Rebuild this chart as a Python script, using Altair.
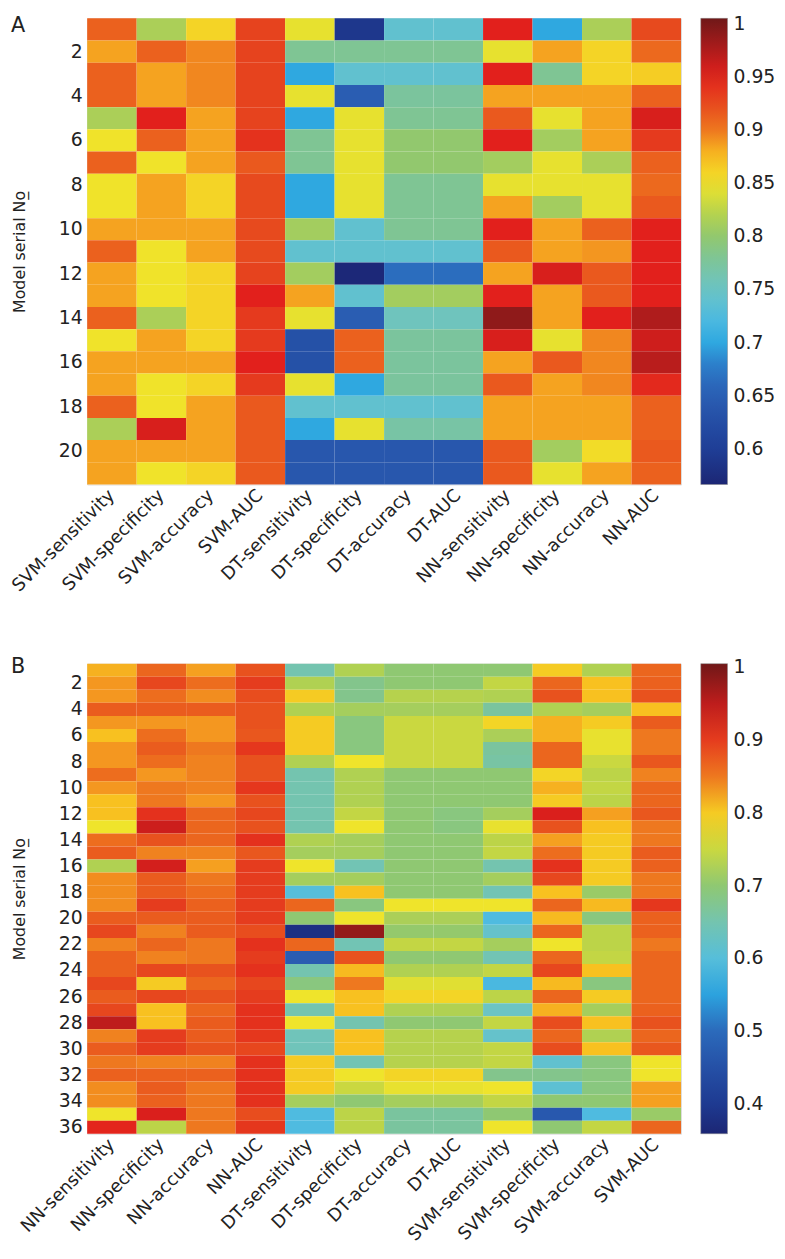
import altair as alt
import pandas as pd

# ---------------- Panel A data (21 models) ----------------
COLS_A = ["SVM-sensitivity", "SVM-specificity", "SVM-accuracy", "SVM-AUC",
          "DT-sensitivity", "DT-specificity", "DT-accuracy", "DT-AUC",
          "NN-sensitivity", "NN-specificity", "NN-accuracy", "NN-AUC"]
ROWS_A = list(range(1, 22))

A_SVM_SENS = [0.91, 0.885, 0.91, 0.91, 0.815, 0.85, 0.91, 0.85, 0.85, 0.885, 0.91,
              0.885, 0.885, 0.91, 0.85, 0.885, 0.885, 0.91, 0.815, 0.885, 0.885]
A_SVM_SPEC = [0.815, 0.91, 0.885, 0.885, 0.95, 0.91, 0.85, 0.885, 0.885, 0.885, 0.85,
              0.85, 0.85, 0.815, 0.885, 0.885, 0.85, 0.85, 0.955, 0.885, 0.85]
A_SVM_ACC = [0.86, 0.895, 0.895, 0.895, 0.885, 0.885, 0.885, 0.86, 0.86, 0.885, 0.885,
             0.86, 0.86, 0.86, 0.86, 0.885, 0.86, 0.885, 0.885, 0.885, 0.86]
A_SVM_AUC = [0.93, 0.93, 0.93, 0.93, 0.93, 0.94, 0.915, 0.925, 0.925, 0.925, 0.925,
             0.93, 0.95, 0.935, 0.935, 0.95, 0.935, 0.915, 0.915, 0.915, 0.915]
A_DT_SENS = [0.845, 0.78, 0.70, 0.845, 0.70, 0.78, 0.78, 0.70, 0.70, 0.81, 0.74,
             0.81, 0.885, 0.845, 0.63, 0.63, 0.845, 0.74, 0.70, 0.64, 0.64]
A_DT_SPEC = [0.59, 0.78, 0.74, 0.65, 0.845, 0.845, 0.845, 0.845, 0.845, 0.74, 0.74,
             0.57, 0.74, 0.65, 0.91, 0.91, 0.70, 0.74, 0.845, 0.64, 0.64]
A_DT_ACC = [0.74, 0.78, 0.74, 0.775, 0.78, 0.80, 0.80, 0.78, 0.78, 0.78, 0.74,
            0.665, 0.81, 0.755, 0.775, 0.775, 0.775, 0.74, 0.77, 0.64, 0.64]
A_DT_AUC = [0.74, 0.78, 0.74, 0.775, 0.78, 0.80, 0.80, 0.78, 0.78, 0.78, 0.74,
            0.665, 0.81, 0.755, 0.775, 0.775, 0.775, 0.74, 0.77, 0.64, 0.64]
A_NN_SENS = [0.95, 0.845, 0.95, 0.885, 0.915, 0.95, 0.81, 0.845, 0.885, 0.95, 0.915,
             0.885, 0.95, 0.99, 0.955, 0.885, 0.915, 0.885, 0.885, 0.915, 0.915]
A_NN_SPEC = [0.70, 0.885, 0.78, 0.885, 0.845, 0.81, 0.845, 0.845, 0.81, 0.885, 0.885,
             0.955, 0.885, 0.885, 0.845, 0.915, 0.885, 0.885, 0.885, 0.81, 0.845]
A_NN_ACC = [0.815, 0.86, 0.86, 0.885, 0.885, 0.885, 0.815, 0.845, 0.845, 0.91, 0.89,
            0.915, 0.915, 0.95, 0.895, 0.895, 0.895, 0.885, 0.885, 0.855, 0.885]
A_NN_AUC = [0.925, 0.905, 0.865, 0.91, 0.955, 0.935, 0.91, 0.905, 0.915, 0.95, 0.95,
            0.95, 0.95, 0.975, 0.96, 0.97, 0.945, 0.91, 0.91, 0.915, 0.91]

VALUES_A = [A_SVM_SENS, A_SVM_SPEC, A_SVM_ACC, A_SVM_AUC,
            A_DT_SENS, A_DT_SPEC, A_DT_ACC, A_DT_AUC,
            A_NN_SENS, A_NN_SPEC, A_NN_ACC, A_NN_AUC]

# ---------------- Panel B data (36 models) ----------------
COLS_B = ["NN-sensitivity", "NN-specificity", "NN-accuracy", "NN-AUC",
          "DT-sensitivity", "DT-specificity", "DT-accuracy", "DT-AUC",
          "SVM-sensitivity", "SVM-specificity", "SVM-accuracy", "SVM-AUC"]
ROWS_B = list(range(1, 37))

B_NN_SENS = [0.82, 0.835, 0.835, 0.87, 0.835, 0.81, 0.835, 0.835, 0.855, 0.835, 0.81, 0.81,
             0.775, 0.855, 0.87, 0.73, 0.84, 0.84, 0.84, 0.87, 0.89, 0.845, 0.865, 0.865,
             0.89, 0.87, 0.89, 0.95, 0.845, 0.87, 0.85, 0.865, 0.84, 0.84, 0.775, 0.92]
B_NN_SPEC = [0.86, 0.89, 0.855, 0.87, 0.835, 0.855, 0.87, 0.855, 0.835, 0.85, 0.85, 0.91,
             0.94, 0.88, 0.845, 0.935, 0.87, 0.87, 0.90, 0.87, 0.845, 0.86, 0.845, 0.89,
             0.80, 0.89, 0.81, 0.81, 0.90, 0.90, 0.845, 0.865, 0.87, 0.865, 0.93, 0.74]
B_NN_ACC = [0.83, 0.855, 0.84, 0.87, 0.835, 0.835, 0.85, 0.845, 0.845, 0.845, 0.835, 0.86,
            0.86, 0.86, 0.845, 0.83, 0.85, 0.855, 0.865, 0.87, 0.87, 0.85, 0.85, 0.88,
            0.86, 0.88, 0.86, 0.87, 0.87, 0.88, 0.845, 0.865, 0.85, 0.85, 0.85, 0.85]
B_NN_AUC = [0.88, 0.90, 0.885, 0.88, 0.88, 0.875, 0.905, 0.88, 0.88, 0.905, 0.88, 0.89,
            0.88, 0.91, 0.875, 0.90, 0.90, 0.90, 0.90, 0.90, 0.885, 0.91, 0.90, 0.91,
            0.89, 0.90, 0.91, 0.91, 0.905, 0.89, 0.91, 0.91, 0.91, 0.91, 0.885, 0.905]
B_DT_SENS = [0.65, 0.73, 0.80, 0.73, 0.80, 0.80, 0.80, 0.73, 0.65, 0.65, 0.65, 0.65,
             0.65, 0.73, 0.72, 0.775, 0.72, 0.60, 0.86, 0.70, 0.38, 0.86, 0.48, 0.65,
             0.69, 0.775, 0.65, 0.775, 0.64, 0.64, 0.80, 0.80, 0.80, 0.72, 0.59, 0.59]
B_DT_SPEC = [0.73, 0.68, 0.68, 0.72, 0.69, 0.69, 0.69, 0.775, 0.73, 0.73, 0.73, 0.745,
             0.775, 0.72, 0.72, 0.645, 0.72, 0.81, 0.69, 0.775, 0.98, 0.645, 0.88, 0.815,
             0.85, 0.81, 0.81, 0.65, 0.81, 0.81, 0.645, 0.775, 0.75, 0.70, 0.74, 0.74]
B_DT_ACC = [0.70, 0.70, 0.735, 0.72, 0.75, 0.75, 0.75, 0.75, 0.70, 0.70, 0.70, 0.70,
            0.70, 0.70, 0.70, 0.70, 0.70, 0.70, 0.775, 0.725, 0.705, 0.745, 0.70, 0.73,
            0.765, 0.79, 0.73, 0.70, 0.735, 0.735, 0.735, 0.79, 0.77, 0.72, 0.665, 0.665]
B_DT_AUC = [0.70, 0.70, 0.735, 0.72, 0.75, 0.75, 0.75, 0.75, 0.70, 0.70, 0.70, 0.69,
            0.69, 0.70, 0.70, 0.70, 0.70, 0.70, 0.775, 0.725, 0.705, 0.745, 0.70, 0.73,
            0.765, 0.79, 0.73, 0.70, 0.735, 0.735, 0.735, 0.79, 0.77, 0.72, 0.665, 0.665]
B_SVM_SENS = [0.70, 0.745, 0.73, 0.665, 0.79, 0.725, 0.665, 0.66, 0.70, 0.70, 0.70, 0.72,
              0.77, 0.74, 0.745, 0.65, 0.72, 0.645, 0.775, 0.59, 0.62, 0.72, 0.645, 0.745,
              0.585, 0.74, 0.63, 0.745, 0.62, 0.745, 0.745, 0.68, 0.775, 0.745, 0.70, 0.775]
B_SVM_SPEC = [0.80, 0.86, 0.88, 0.73, 0.82, 0.82, 0.86, 0.86, 0.79, 0.82, 0.80, 0.93,
              0.88, 0.83, 0.855, 0.91, 0.89, 0.81, 0.86, 0.815, 0.86, 0.775, 0.86, 0.89,
              0.815, 0.86, 0.82, 0.885, 0.86, 0.885, 0.615, 0.68, 0.61, 0.70, 0.47, 0.70]
B_SVM_ACC = [0.73, 0.81, 0.81, 0.72, 0.80, 0.77, 0.77, 0.75, 0.74, 0.745, 0.74, 0.83,
             0.81, 0.80, 0.80, 0.80, 0.80, 0.71, 0.815, 0.69, 0.74, 0.74, 0.745, 0.81,
             0.69, 0.80, 0.72, 0.81, 0.73, 0.81, 0.69, 0.69, 0.69, 0.70, 0.59, 0.745]
B_SVM_AUC = [0.86, 0.865, 0.88, 0.81, 0.87, 0.85, 0.85, 0.875, 0.845, 0.86, 0.86, 0.875,
             0.85, 0.85, 0.87, 0.865, 0.85, 0.85, 0.905, 0.865, 0.865, 0.85, 0.86, 0.86,
             0.86, 0.86, 0.865, 0.88, 0.86, 0.875, 0.775, 0.775, 0.83, 0.83, 0.71, 0.86]

VALUES_B = [B_NN_SENS, B_NN_SPEC, B_NN_ACC, B_NN_AUC,
            B_DT_SENS, B_DT_SPEC, B_DT_ACC, B_DT_AUC,
            B_SVM_SENS, B_SVM_SPEC, B_SVM_ACC, B_SVM_AUC]

# colour bar limits and labels
LIMITS_A = [0.5665, 1.005]
LIMITS_B = [0.359, 1.005]
LEGEND_A = [0.6, 0.65, 0.7, 0.75, 0.8, 0.85, 0.9, 0.95, 1.0]
LEGEND_B = [0.4, 0.5, 0.6, 0.7, 0.8, 0.9, 1.0]
YTICKS_A = list(range(2, 21, 2))
YTICKS_B = list(range(2, 37, 2))

# jet-like palette (positions as fraction of the colour range)
JET_POS = [0.0, 0.08, 0.19, 0.25, 0.30, 0.36, 0.42, 0.48, 0.53, 0.59, 0.645,
           0.70, 0.735, 0.77, 0.83, 0.875, 0.93, 1.0]
JET_COL = ["#1c2674", "#1f3f98", "#2a5db2", "#2c78c6", "#2ca6e0", "#50bce0",
           "#6cc4c4", "#7cc49a", "#90c870", "#bcd448", "#f0e42a", "#f8c020",
           "#f49a20", "#ec6a1e", "#e6421e", "#e2201c", "#b01c1c", "#701818"]

FONT = "DejaVu Sans"


def table(cols, rows, values):
    recs = []
    for c, col in zip(cols, values):
        for r, v in zip(rows, col):
            recs.append({"metric": c, "row": r, "value": v})
    return pd.DataFrame(recs)


def panel(letter, cols, rows, values, limits, legend_vals, yticks, height, letter_dy):
    df = table(cols, rows, values)
    lo, hi = limits
    dom = [lo + p * (hi - lo) for p in JET_POS]
    cscale = alt.Scale(domain=dom, range=JET_COL, interpolate="rgb")
    heat = alt.Chart(df).mark_rect().encode(
        x=alt.X("metric:N", sort=cols,
                scale=alt.Scale(paddingInner=0, paddingOuter=0),
                axis=alt.Axis(title=None, labelAngle=-45, labelAlign="right",
                              labelBaseline="middle", labelPadding=8,
                              labelFontSize=18, labelFont=FONT, labelColor="#222",
                              ticks=False, tickSize=0, domain=False)),
        y=alt.Y("row:O", sort="ascending",
                scale=alt.Scale(paddingInner=0, paddingOuter=0),
                axis=alt.Axis(values=yticks, title="Model serial No\u0332",
                              titleFont=FONT, titleFontSize=16,
                              titleFontWeight="normal", titleColor="#222",
                              titlePadding=31, labelPadding=5,
                              labelFontSize=19, labelFont=FONT, labelColor="#222",
                              ticks=False, tickSize=0, domain=False)),
        color=alt.Color("value:Q", scale=cscale,
                        legend=alt.Legend(type="gradient", title=None,
                                          values=legend_vals,
                                          format=".2~f", orient="right",
                                          direction="vertical",
                                          gradientLength=height,
                                          gradientThickness=27,
                                          gradientStrokeColor="#888",
                                          gradientStrokeWidth=0.5,
                                          labelFontSize=19, labelFont=FONT,
                                          labelColor="#222", labelOffset=6,
                                          labelBaseline="middle",
                                          labelOverlap=False,
                                          offset=20, padding=0)),
    )
    lab = alt.Chart(pd.DataFrame({"panel": [letter]})).mark_text(
        align="left", baseline="top", fontSize=21, font=FONT, color="#222"
    ).encode(x=alt.value(-77), y=alt.value(letter_dy), text="panel:N")
    return alt.layer(heat, lab).properties(width=600, height=height)


chart_a = panel("A", COLS_A, ROWS_A, VALUES_A, LIMITS_A, LEGEND_A, YTICKS_A, 471, -3)
chart_b = panel("B", COLS_B, ROWS_B, VALUES_B, LIMITS_B, LEGEND_B, YTICKS_B, 475, -8)

chart = alt.vconcat(chart_a, chart_b, spacing=181, bounds="flush").resolve_scale(
    color="independent"
).properties(padding=0).configure_view(stroke="#999", strokeWidth=1).configure(
    background="white"
)

chart.save("out.html", embed_options={"renderer": "svg", "actions": False})
